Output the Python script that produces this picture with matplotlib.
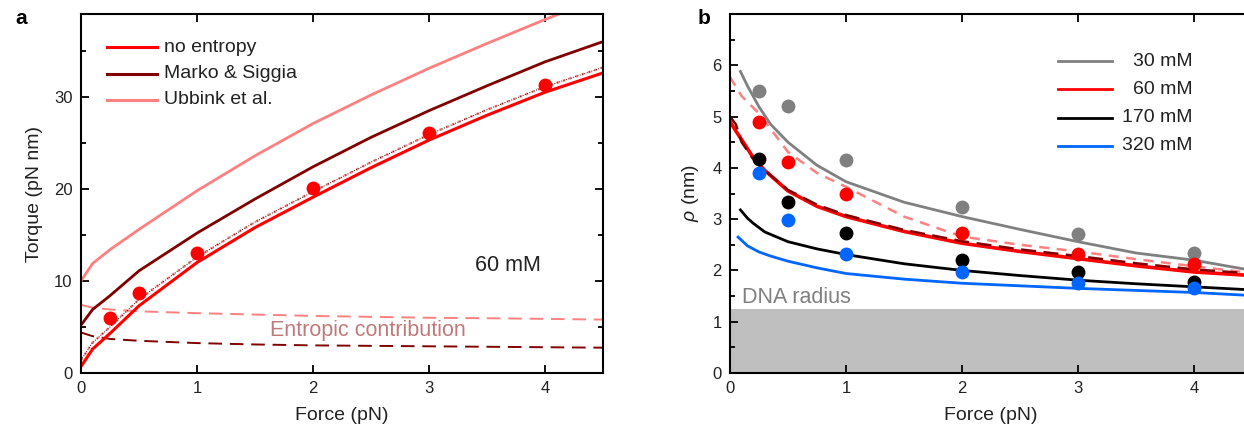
import matplotlib
matplotlib.use("Agg")
import matplotlib.pyplot as plt
from matplotlib.lines import Line2D
import numpy as np

plt.rcParams['font.family'] = ['Liberation Sans', 'DejaVu Sans']
plt.rcParams['mathtext.fontset'] = 'custom'
plt.rcParams['mathtext.it'] = 'Liberation Sans:italic'
plt.rcParams['mathtext.rm'] = 'Liberation Sans'

# ---------------- Panel a data ----------------
a_force_pts = [0.25, 0.5, 1, 2, 3, 4]
a_torque_pts = [6.0, 8.7, 13.0, 20.1, 26.1, 31.3]

a_F = [0.0, 0.1, 0.25, 0.5, 1.0, 1.5, 2.0, 2.5, 3.0, 3.5, 4.0, 4.5]
a_no_entropy = [0.7, 2.6, 4.3, 7.3, 12.0, 15.8, 19.1, 22.3, 25.3, 28.0, 30.5, 32.6]
a_dotted = [1.4, 3.3, 5.0, 8.0, 12.6, 16.4, 19.7, 22.9, 25.9, 28.6, 31.1, 33.2]
a_marko = [5.2, 6.9, 8.4, 11.1, 15.2, 18.9, 22.4, 25.6, 28.5, 31.2, 33.8, 36.0]
a_ubbink = [10.0, 11.9, 13.4, 15.6, 19.8, 23.6, 27.1, 30.2, 33.1, 35.8, 38.4, 40.9]
a_entropic_ubbink = [7.4, 7.1, 6.9, 6.7, 6.5, 6.35, 6.2, 6.1, 6.0, 5.95, 5.88, 5.8]
a_entropic_marko = [4.4, 4.0, 3.7, 3.5, 3.25, 3.1, 3.0, 2.95, 2.9, 2.85, 2.8, 2.75]

a_legend_labels = ["no entropy", "Marko & Siggia", "Ubbink et al."]

# ---------------- Panel b data ----------------
b_force_pts = [0.25, 0.5, 1, 2, 3, 4]
b_pts_30 = [5.49, 5.20, 4.16, 3.24, 2.71, 2.34]
b_pts_60 = [4.89, 4.12, 3.49, 2.73, 2.33, 2.12]
b_pts_170 = [4.18, 3.34, 2.73, 2.20, 1.97, 1.77]
b_pts_320 = [3.90, 2.98, 2.33, 1.97, 1.76, 1.65]

b_F30 = [0.09, 0.15, 0.25, 0.35, 0.5, 0.75, 1.0, 1.5, 2.0, 2.5, 3.0, 3.5, 4.0, 4.5]
b_line_30 = [5.88, 5.6, 5.19, 4.85, 4.50, 4.05, 3.73, 3.33, 3.05, 2.80, 2.56, 2.34, 2.20, 2.0]

b_F60 = [0.0, 0.05, 0.1, 0.2, 0.3, 0.5, 0.75, 1.0, 1.5, 2.0, 2.5, 3.0, 3.5, 4.0, 4.5]
b_line_60 = [4.9, 4.72, 4.55, 4.2, 3.95, 3.55, 3.25, 3.05, 2.76, 2.53, 2.37, 2.23, 2.09, 1.97, 1.90]
b_line_60_marko = [5.0, 4.85, 4.5, 4.17, 3.95, 3.57, 3.28, 3.08, 2.79, 2.57, 2.41, 2.28, 2.14, 2.02, 1.94]

b_F60u = [0.0, 0.1, 0.25, 0.5, 0.75, 1.0, 1.5, 2.0, 2.5, 3.0, 3.5, 4.0, 4.5]
b_line_60_ubbink = [5.77, 5.4, 5.06, 4.31, 3.90, 3.63, 3.05, 2.66, 2.50, 2.37, 2.22, 2.08, 1.95]

b_F170 = [0.09, 0.15, 0.2, 0.3, 0.5, 0.75, 1.0, 1.5, 2.0, 2.5, 3.0, 3.5, 4.0, 4.5]
b_line_170 = [3.18, 3.02, 2.92, 2.75, 2.56, 2.42, 2.31, 2.13, 2.00, 1.90, 1.81, 1.74, 1.68, 1.62]

b_F320 = [0.07, 0.15, 0.25, 0.35, 0.5, 0.75, 1.0, 1.5, 2.0, 2.5, 3.0, 3.5, 4.0, 4.5]
b_line_320 = [2.65, 2.48, 2.36, 2.28, 2.18, 2.05, 1.94, 1.83, 1.75, 1.70, 1.65, 1.61, 1.57, 1.51]

b_dna_radius = 1.25
b_legend_labels = ["30 mM", "60 mM", "170 mM", "320 mM"]

RED = '#ff0000'
DARKRED = '#800000'
PINK = '#ff8080'
GRAY = '#808080'
BLUE = '#0066ff'
TXT = '#222222'

fig = plt.figure(figsize=(12.44, 4.29), dpi=100)

def style_axes(ax, yminor):
    for s in ax.spines.values():
        s.set_linewidth(1.5)
        s.set_color('black')
    ax.tick_params(which='both', direction='in', top=True, right=True,
                   labelsize=12, colors='black', labelcolor=TXT, width=1.3)
    ax.tick_params(which='major', length=6, pad=6)
    ax.tick_params(which='minor', length=3.5)
    ax.yaxis.set_minor_locator(matplotlib.ticker.MultipleLocator(yminor))
    ax.tick_params(axis='x', which='minor', bottom=False, top=False)

# ---------------- Panel a ----------------
axa = fig.add_axes([81/1244, 56/429, 522/1244, 359/429])
axa.plot(a_F, a_entropic_ubbink, color=PINK, lw=1.4, dashes=(7, 4))
axa.plot(a_F, a_entropic_marko, color=DARKRED, lw=1.4, dashes=(7, 4))
axa.plot(a_F, a_ubbink, color=PINK, lw=2.0)
axa.plot(a_F, a_marko, color=DARKRED, lw=2.0)
axa.plot(a_F, a_dotted, color=PINK, lw=1.8, ls=':')
axa.plot(a_F, a_dotted, color='#400000', lw=0.7, dashes=(1, 1.5))
axa.plot(a_F, a_no_entropy, color=RED, lw=2.2)
axa.plot(a_force_pts, a_torque_pts, 'o', color=RED, ms=10, mec='none')
axa.set_xlim(0, 4.5)
axa.set_ylim(0, 39)
axa.set_xticks([0, 1, 2, 3, 4])
axa.set_yticks([0, 10, 20, 30])
style_axes(axa, 5)
axa.set_xlabel('Force (pN)', fontsize=14, color=TXT, labelpad=8)
axa.set_ylabel('Torque (pN nm)', fontsize=14, color=TXT, labelpad=8)
axa.text(3.68, 11.7, '60 mM', fontsize=15.5, color=TXT, ha='center', va='center')
axa.text(1.63, 4.6, 'Entropic contribution', fontsize=15.5, color='#c07a7a',
         ha='left', va='center')
for i, (lab, col) in enumerate(zip(a_legend_labels, [RED, DARKRED, PINK])):
    yy = 1 - (47 - 14 + 26.5 * i) / 359
    axa.add_line(Line2D([(107 - 81) / 522, (157 - 81) / 522], [yy, yy],
                        transform=axa.transAxes, color=col, lw=2.2))
    axa.text((164 - 81) / 522, yy, lab, transform=axa.transAxes, fontsize=14,
             color=TXT, ha='left', va='center')

# ---------------- Panel b ----------------
axb = fig.add_axes([730/1244, 56/429, 522/1244, 359/429])
axb.axhspan(0, b_dna_radius, color='#bfbfbf', lw=0, zorder=0)
axb.plot(b_F30, b_line_30, color=GRAY, lw=2.0)
axb.plot(b_F60u, b_line_60_ubbink, color=PINK, lw=1.8, dashes=(4, 3))
axb.plot(b_F60, b_line_60, color=RED, lw=2.6)
axb.plot(b_F60, b_line_60_marko, color=DARKRED, lw=1.8, dashes=(6, 3))
axb.plot(b_F170, b_line_170, color='black', lw=2.0)
axb.plot(b_F320, b_line_320, color=BLUE, lw=2.0)
for vals, col in [(b_pts_30, GRAY), (b_pts_60, RED), (b_pts_170, 'black'), (b_pts_320, BLUE)]:
    axb.plot(b_force_pts, vals, 'o', color=col, ms=10, mec='none')
axb.set_xlim(0, 4.5)
axb.set_ylim(0, 7.0)
axb.set_xticks([0, 1, 2, 3, 4])
axb.set_yticks([0, 1, 2, 3, 4, 5, 6])
style_axes(axb, 0.5)
axb.set_xlabel('Force (pN)', fontsize=14, color=TXT, labelpad=8)
axb.set_ylabel(r'$\rho$ (nm)', fontsize=14, color=TXT, labelpad=8)
axb.text(0.1, 1.48, 'DNA radius', fontsize=15.5, color=GRAY, ha='left', va='center')
for i, (lab, col) in enumerate(zip(b_legend_labels, [GRAY, RED, 'black', BLUE])):
    yy = 1 - (61 - 14 + 28.3 * i) / 359
    axb.add_line(Line2D([(1058 - 730) / 522, (1112 - 730) / 522], [yy, yy],
                        transform=axb.transAxes, color=col, lw=2.0))
    axb.text((1193 - 730) / 522, yy, lab, transform=axb.transAxes, fontsize=14,
             color=TXT, ha='right', va='center')

fig.text(15/1244, 1 - 18/429, 'a', fontsize=15, fontweight='bold', ha='left', va='center')
fig.text(698/1244, 1 - 18/429, 'b', fontsize=15, fontweight='bold', ha='left', va='center')

fig.savefig('out.png', dpi=100)
